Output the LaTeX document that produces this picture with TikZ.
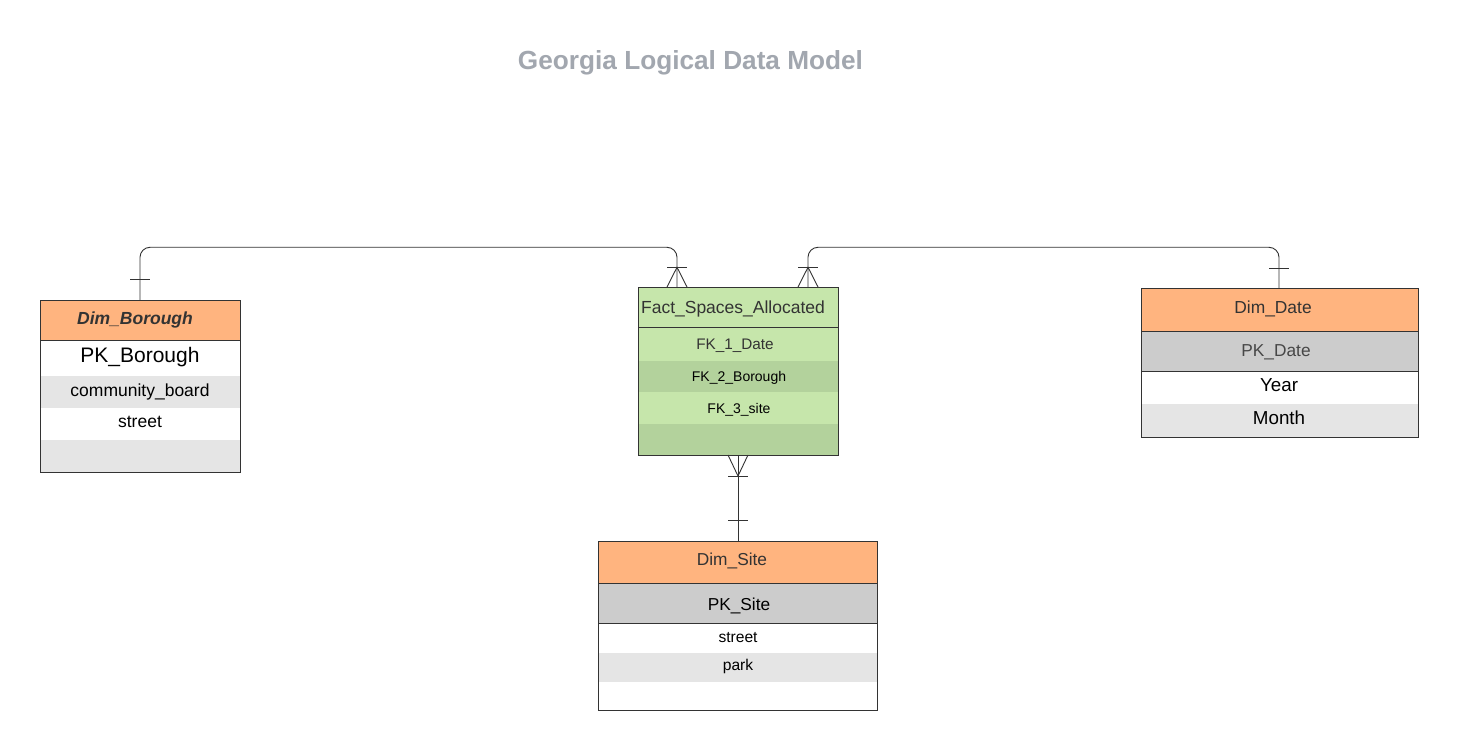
\documentclass[tikz,border=0pt]{standalone}
\usepackage{fontspec}
\setmainfont{Liberation Sans}
\definecolor{hdr}{HTML}{FFB47F}
\definecolor{lgray}{HTML}{E5E5E5}
\definecolor{pkgray}{HTML}{CCCCCC}
\definecolor{glight}{HTML}{C6E6AB}
\definecolor{gdark}{HTML}{B3D29C}
\definecolor{ln}{HTML}{333333}
\definecolor{ttl}{HTML}{A2A7AF}
\begin{document}
\begin{tikzpicture}[x=1pt,y=-1pt,
  ebox/.style={draw=ln, line width=1pt},
  sep/.style={draw=ln, line width=1pt},
  conn/.style={draw=ln, line width=0.9pt},
  lbl/.style={anchor=base, inner sep=0pt},
  fs/.style={font=\fontsize{#1}{#1}\selectfont}]
\useasboundingbox (0,0) rectangle (1459,751);
\fill[white] (0,0) rectangle (1459,751);

% title
\node[lbl, fs=26.2, text=ttl] (title) at (690.5,69.5) {\bfseries Georgia Logical Data Model};

% ---------- Dim_Borough ----------
\fill[hdr] (40,300) rectangle (240,340);
\fill[lgray] (40,376) rectangle (240,408);
\fill[lgray] (40,440) rectangle (240,472);
\draw[sep] (40,340) -- (240,340);
\node[ebox, minimum width=200pt, minimum height=172pt, inner sep=0pt, anchor=north west] (bor) at (40,300) {};
\node[lbl, fs=17.5, text=ln] (borh) at (135,324) {\bfseries\itshape Dim\_Borough};
\node[lbl, fs=21] (borpk) at (140,362.7) {PK\_Borough};
\node[lbl, fs=17.5] (borcb) at (140,396) {community\_board};
\node[lbl, fs=17.5] (borst) at (140,427.7) {street};

% ---------- Fact ----------
\fill[glight] (638,287) rectangle (838,455);
\fill[gdark] (638,360.7) rectangle (838,391.7);
\fill[gdark] (638,424) rectangle (838,455);
\draw[sep] (638,327.7) -- (838,327.7);
\node[ebox, minimum width=200pt, minimum height=168pt, inner sep=0pt, anchor=north west] (fact) at (638,287) {};
\node[lbl, fs=17.5, text=ln] (facth) at (733,313.3) {Fact\_Spaces\_Allocated};
\node[lbl, fs=15.3, text=ln] (fk1) at (735,349) {FK\_1\_Date};
\node[lbl, fs=14] (fk2) at (739,381.7) {FK\_2\_Borough};
\node[lbl, fs=14] (fk3) at (739,413.3) {FK\_3\_site};

% ---------- Dim_Date ----------
\fill[hdr] (1141,288.3) rectangle (1418,331);
\fill[pkgray] (1141,331) rectangle (1418,371);
\fill[lgray] (1141,404) rectangle (1418,436.7);
\draw[sep] (1141,331) -- (1418,331);
\draw[sep] (1141,371) -- (1418,371);
\node[ebox, minimum width=277pt, minimum height=148.4pt, inner sep=0pt, anchor=north west] (date) at (1141,288.3) {};
\node[lbl, fs=17.4, text=ln] (dateh) at (1273,313.3) {Dim\_Date};
\node[lbl, fs=17.3, text=ln!90!white] (datepk) at (1276,356) {PK\_Date};
\node[lbl, fs=18.8] (datey) at (1279,391.7) {Year};
\node[lbl, fs=18.8] (datem) at (1279,424.3) {Month};

% ---------- Dim_Site ----------
\fill[hdr] (598.3,541) rectangle (877.3,583.3);
\fill[pkgray] (598.3,583.3) rectangle (877.3,623.3);
\fill[lgray] (598.3,652.7) rectangle (877.3,681.7);
\draw[sep] (598.3,583.3) -- (877.3,583.3);
\draw[sep] (598.3,623.3) -- (877.3,623.3);
\node[ebox, minimum width=279pt, minimum height=169pt, inner sep=0pt, anchor=north west] (site) at (598.3,541) {};
\node[lbl, fs=17.3, text=ln] (siteh) at (732,565.7) {Dim\_Site};
\node[lbl, fs=17.3] (sitepk) at (739,610) {PK\_Site};
\node[lbl, fs=15.6] (sitest) at (738,642.3) {street};
\node[lbl, fs=15.6] (sitepa) at (738,670.7) {park};

% ---------- connectors ----------
\coordinate (bortop) at (140,300);
\coordinate (fleft) at (677,287);
\coordinate (fright) at (808,287);
\coordinate (datetop) at (1279,288.3);
\coordinate (fbot) at (738,455);
\coordinate (sitetop) at (738,541);

\draw[conn, rounded corners=10pt] (bortop) -- (140,247.3) -- (677,247.3) -- (fleft);
\draw[conn, rounded corners=10pt] (datetop) -- (1279,247.3) -- (808,247.3) -- (fright);
\draw[conn] (fbot) -- (sitetop);

% one ticks
\draw[conn] (130,279) -- (150,279);
\draw[conn] (1269,268) -- (1289,268);
\draw[conn] (728,520) -- (748,520);

% crow's feet
\draw[conn] (667,267.3) -- (687,267.3);
\draw[conn] (667,287) -- (677,267.3) -- (687,287);
\draw[conn] (798,267.3) -- (818,267.3);
\draw[conn] (798,287) -- (808,267.3) -- (818,287);
\draw[conn] (728,476) -- (748,476);
\draw[conn] (728,455) -- (738,476) -- (748,455);
\end{tikzpicture}
\end{document}
